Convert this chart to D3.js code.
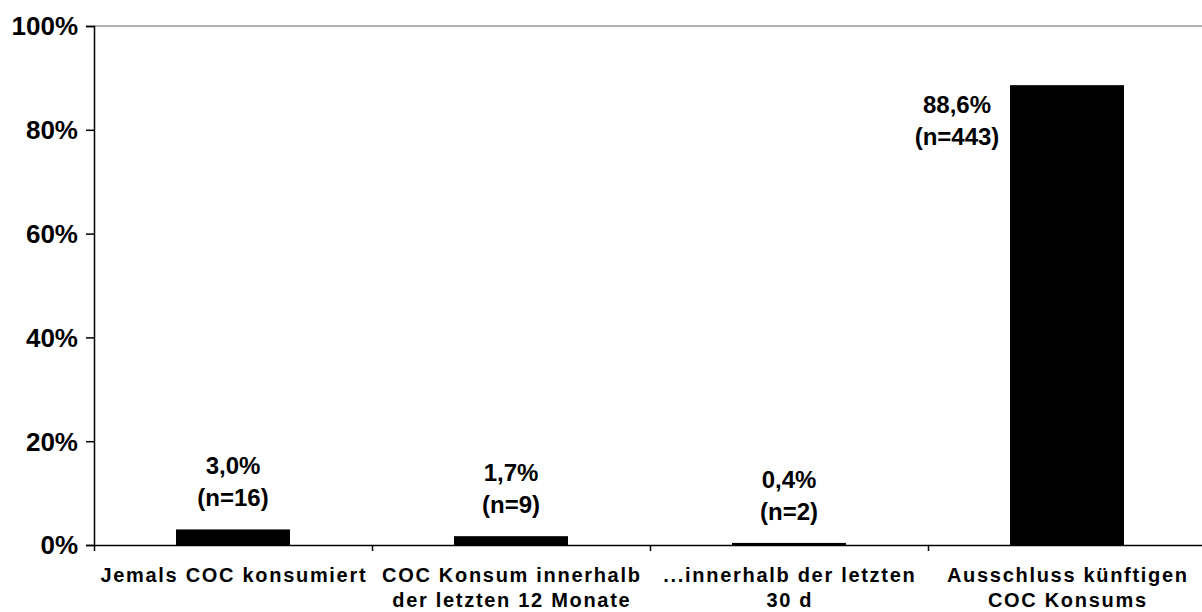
<!DOCTYPE html>
<html>
<head>
<meta charset="utf-8">
<script src="https://cdn.jsdelivr.net/npm/d3@7"></script>
<style>
  body { margin: 0; background: #fff; }
  svg text { font-family: "Liberation Sans", Arial, sans-serif; font-weight: bold; fill: #000; }
</style>
</head>
<body>
<svg width="1202" height="612"></svg>
<script>
// data
var categories = [
    ["Jemals COC konsumiert"],
    ["COC Konsum innerhalb", "der letzten 12 Monate"],
    ["...innerhalb der letzten", "30 d"],
    ["Ausschluss künftigen", "COC Konsums"]
];
var values = [3.0, 1.7, 0.4, 88.6];
var counts = [16, 9, 2, 443];
var yTicks = [0, 20, 40, 60, 80, 100];

var svg = d3.select("svg");
var plotLeft = 94, plotTop = 26, plotBottom = 545, plotRight = 1206;

var xScale = d3.scaleBand()
    .domain(d3.range(categories.length))
    .range([plotLeft, plotRight])
    .paddingInner(0.59)
    .paddingOuter(0.295);
var yScale = d3.scaleLinear()
    .domain([0, 100])
    .range([plotBottom, plotTop]);

// top border line
svg.append("line")
    .attr("x1", plotLeft).attr("x2", 1202)
    .attr("y1", yScale(100)).attr("y2", yScale(100))
    .attr("stroke", "#999").attr("stroke-width", 1.5);

// y axis
var yAxis = svg.append("g")
    .attr("transform", "translate(" + plotLeft + ",0)")
    .call(d3.axisLeft(yScale).tickValues(yTicks).tickSize(8).tickPadding(8)
        .tickFormat(d => d + "%"));
yAxis.select(".domain").attr("stroke", "#000").attr("stroke-width", 1.5);
yAxis.selectAll(".tick line").attr("stroke", "#000").attr("stroke-width", 1.5);
yAxis.selectAll("text").style("font-size", "26px").attr("dy", "0.34em");

// x axis with ticks between categories
var xAxisScale = d3.scaleLinear().domain([0, categories.length]).range([plotLeft, plotRight]);
var xAxis = svg.append("g")
    .attr("transform", "translate(0," + plotBottom + ")")
    .call(d3.axisBottom(xAxisScale).tickValues(d3.range(categories.length + 1))
        .tickSize(6).tickSizeOuter(0).tickFormat(""));
xAxis.select(".domain").attr("stroke", "#000").attr("stroke-width", 1.5);
xAxis.selectAll(".tick line").attr("stroke", "#000").attr("stroke-width", 1.5);

// bars
svg.selectAll("rect.bar")
    .data(values)
    .enter().append("rect")
    .attr("class", "bar")
    .attr("x", (d, i) => xScale(i))
    .attr("width", xScale.bandwidth())
    .attr("y", d => yScale(d))
    .attr("height", d => plotBottom - yScale(d))
    .attr("fill", "#000");

// category labels
categories.forEach(function(lines, i) {
    var cx = xScale(i) + xScale.bandwidth() / 2 + 0.85;
    var t = svg.append("text")
        .attr("x", cx)
        .attr("y", 582)
        .attr("text-anchor", "middle")
        .style("font-size", "20px")
        .style("letter-spacing", "1.7px");
    lines.forEach(function(s, j) {
        t.append("tspan")
            .attr("x", cx)
            .attr("dy", j === 0 ? 0 : 25)
            .text(s);
    });
});

// value labels
values.forEach(function(v, i) {
    var fmt = v.toFixed(1).replace(".", ",") + "%";
    var cx, y1;
    if (v > 80) {
        cx = xScale(i) - 53;
        y1 = yScale(v) + 28;
    } else {
        cx = xScale(i) + xScale.bandwidth() / 2;
        y1 = yScale(v) - 55;
    }
    var t = svg.append("text")
        .attr("x", cx).attr("y", y1)
        .attr("text-anchor", "middle")
        .style("font-size", "24px");
    t.append("tspan").attr("x", cx).attr("dy", 0).text(fmt);
    t.append("tspan").attr("x", cx).attr("dy", 32).text("(n=" + counts[i] + ")");
});
</script>
</body>
</html>
